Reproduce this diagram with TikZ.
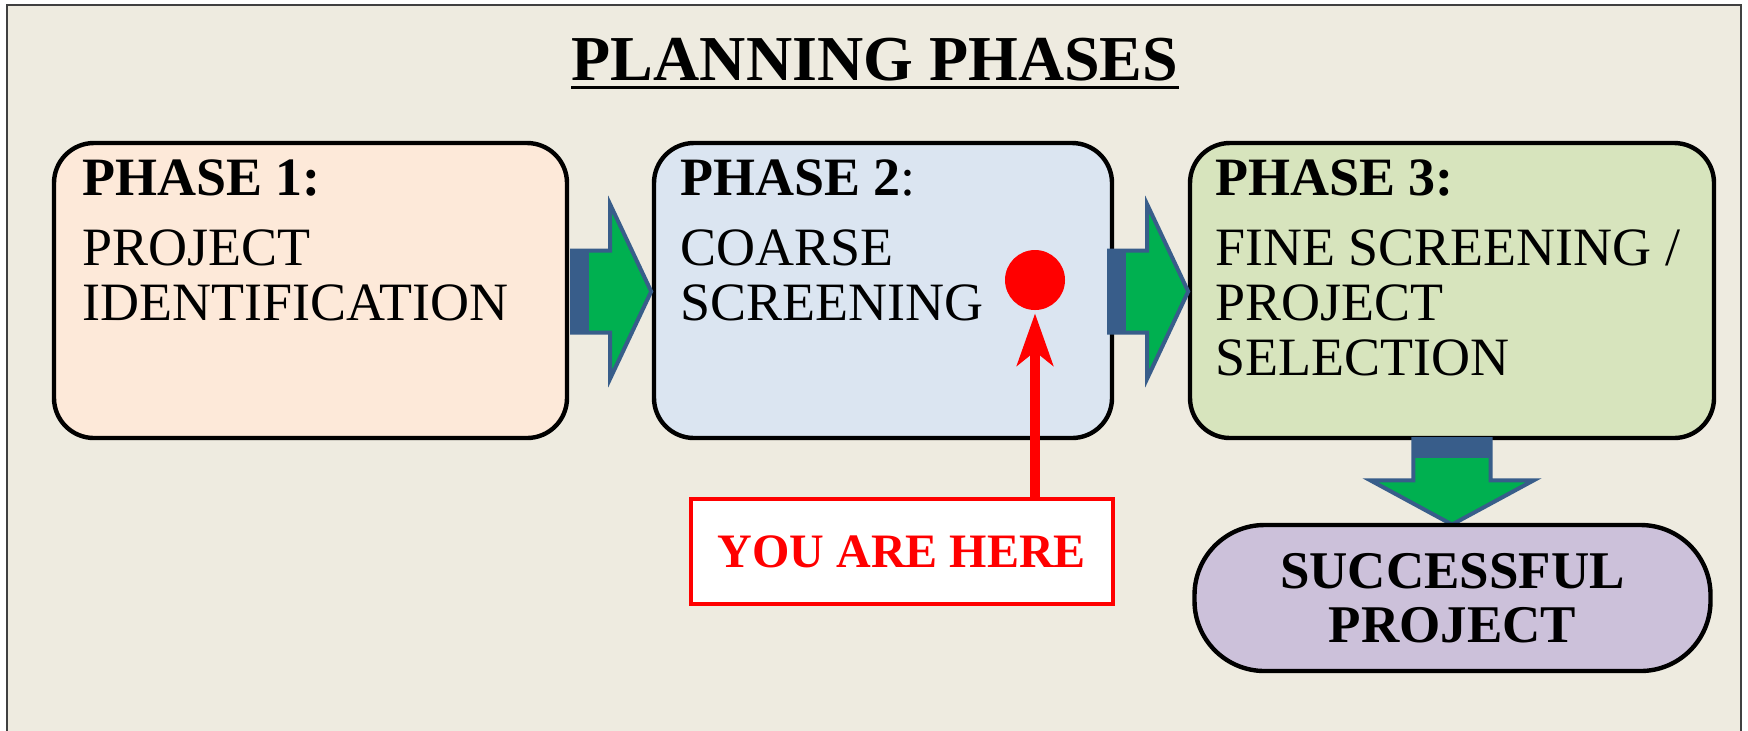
\documentclass[tikz,border=0pt]{standalone}
\usepackage{fontspec}
\setmainfont{Liberation Serif}
\usetikzlibrary{positioning,calc,arrows.meta}

\definecolor{bgcream}{HTML}{EEEBE0}
\definecolor{peach}{HTML}{FDE9D9}
\definecolor{paleblue}{HTML}{DBE5F1}
\definecolor{palegreen}{HTML}{D7E4BD}
\definecolor{lavender}{HTML}{CCC1DA}
\definecolor{arrowgreen}{HTML}{00B050}
\definecolor{arrowblue}{HTML}{385D8A}

\tikzset{
  phasebox/.style={draw=black, line width=2.2pt, rounded corners=20pt, minimum height=147.5pt, inner sep=0pt},
  phasetext/.style={anchor=base west, align=left, inner sep=0pt, font=\fontsize{27}{27.5}\selectfont},
  herearrow/.style={draw=red, line width=5pt, -{Stealth[length=26pt,width=18pt,inset=7pt]}},
}

% block arrow: #1 = tail point, #2 = angle, #3 = extra options
\newcommand{\phasearrow}[3]{%
  \begin{scope}[shift={#1},rotate=#2,#3]
    \filldraw[fill=arrowgreen, draw=arrowblue, line width=2pt] (0,-41) -- (38,-41) -- (38,-87) -- (79,0) -- (38,87) -- (38,41) -- (0,41) -- cycle ;
    \fill[arrowblue] (0,-42) rectangle (17,42) ;
  \end{scope}}

\begin{document}
\begin{tikzpicture}[x=0.5pt,y=0.5pt,yscale=-1,xscale=1]
\useasboundingbox (0,0) rectangle (1748,730);

%Shape: Background
\fill[white] (0,0) rectangle (1748,730);
\filldraw[fill=bgcream, draw=black!75, line width=0.8pt] (7,5) rectangle (1741,760);

% Text Node
\node[anchor=base, inner sep=0pt, font=\bfseries\fontsize{32}{38}\selectfont] (title) at (875,80) {PLANNING PHASES};
\draw[line width=1.5pt] ([yshift=3.5pt]title.base west) -- ([yshift=3.5pt]title.base east);

%Shape: Rounded Rect
\node[phasebox, fill=peach, minimum width=256.5pt] (p1) at (310.5,290.5) {};
%Shape: Rounded Rect
\node[phasebox, fill=paleblue, minimum width=229pt] (p2) at (883,290.5) {};
%Shape: Rounded Rect
\node[phasebox, fill=palegreen, minimum width=262pt] (p3) at (1452,290.5) {};

% Text Node (anchored on last line)
\node[phasetext] (t1) at ($(p1.north west)+(30,180)$) {\textbf{PHASE 1:}\\[7.5pt]PROJECT\\IDENTIFICATION};
% Text Node
\node[phasetext] (t2) at ($(p2.north west)+(28,180)$) {\textbf{PHASE 2}:\\[7.5pt]COARSE\\SCREENING};
% Text Node
\node[phasetext] (t3) at ($(p3.north west)+(27,235)$) {\textbf{PHASE 3:}\\[7.5pt]FINE SCREENING /\\PROJECT\\SELECTION};

%Block Arrows
\phasearrow{($(p1.east)+(3,1)$)}{0}{}
\phasearrow{($(p2.east)+(-5,1)$)}{0}{}
\phasearrow{($(p3.south)+(0,-1)$)}{90}{xscale=1.08,yscale=0.94}

%Shape: Stadium
\node[draw=black, line width=2.2pt, fill=lavender, rounded corners=35pt, minimum width=258pt, minimum height=73pt, align=center, font=\bfseries\fontsize{26.5}{27}\selectfont] (done) at (1452.5,598) {SUCCESSFUL\\PROJECT};

%Shape: Rectangle
\node[draw=red, line width=2pt, fill=white, minimum width=211pt, minimum height=52.5pt, text=red, font=\bfseries\fontsize{24}{28}\selectfont] (here) at (902,551.5) {YOU ARE HERE};

%Shape: Circle
\node[circle, fill=red, minimum size=30pt, inner sep=0pt] (dot) at (1035,280) {};

%Straight Lines
\draw[herearrow] (dot |- here.north) -- ([yshift=1.5pt]dot.south);

\end{tikzpicture}
\end{document}
